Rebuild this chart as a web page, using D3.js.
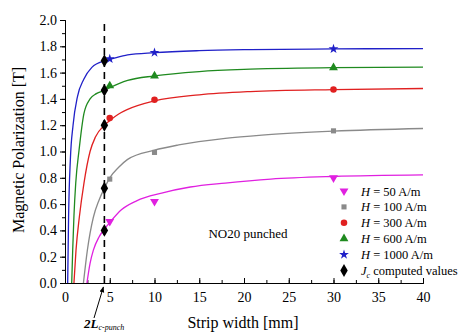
<!DOCTYPE html>
<html>
<head>
<meta charset="utf-8">
<script src="https://cdn.jsdelivr.net/npm/d3@7"></script>
<style>
  body { margin: 0; background: #fff; }
  svg text { font-family: 'Liberation Serif', 'Times New Roman', 'DejaVu Serif', serif; }
</style>
</head>
<body>
<div id="root"></div>
<script>
// Data ////////////////////////////////////////////////////////////////
const xTicks = [0, 5, 10, 15, 20, 25, 30, 35, 40];
const yTicks = [0.0, 0.2, 0.4, 0.6, 0.8, 1.0, 1.2, 1.4, 1.6, 1.8, 2.0];

const seriesNames = ['50', '100', '300', '600', '1000'];
const seriesColors = ['#e020e0', '#8a8a8a', '#e02020', '#1f8a1f', '#2020c8'];

// measured points
const markerX = [5, 10, 30];
const h50Points = [0.468, 0.62, 0.80];
const h100Points = [0.79, 0.993, 1.157];
const h300Points = [1.254, 1.393, 1.471];
const h600Points = [1.50, 1.575, 1.638];
const h1000Points = [1.704, 1.752, 1.78];

// Jc computed values at 2L c-punch
const jcX = 4.4;
const jcValues = [0.40, 0.72, 1.20, 1.465, 1.69];

// fitted curves
const h50FitX = [2.45, 2.8, 3.17, 3.8, 4.4, 5, 6.3, 8, 10.8, 14, 17.9, 23, 30, 40];
const h50FitY = [0, 0.15, 0.25, 0.35, 0.41, 0.46, 0.557, 0.625, 0.684, 0.73, 0.76, 0.79, 0.81, 0.822];
const h100FitX = [2.06, 2.5, 3.17, 3.8, 4.4, 5, 6, 7, 10, 12.7, 17.9, 22, 30, 40];
const h100FitY = [0, 0.25, 0.5, 0.63, 0.72, 0.8, 0.88, 0.94, 1.01, 1.05, 1.10, 1.125, 1.155, 1.175];
const h300FitX = [1.0, 1.23, 1.6, 2.12, 2.8, 3.4, 4.4, 5, 6, 7, 10, 15, 20.7, 30, 40];
const h300FitY = [0, 0.25, 0.5, 0.76, 1.0, 1.11, 1.20, 1.235, 1.285, 1.32, 1.385, 1.431, 1.456, 1.471, 1.479];
const h600FitX = [0.75, 0.86, 1.0, 1.2, 1.57, 2.12, 2.8, 3.5, 4.4, 5, 7, 10, 15, 20.7, 30, 40];
const h600FitY = [0, 0.25, 0.51, 0.76, 1.01, 1.29, 1.40, 1.44, 1.465, 1.485, 1.54, 1.575, 1.608, 1.626, 1.638, 1.641];
const h1000FitX = [0.3, 0.4, 0.6, 0.9, 1.4, 2.1, 3.0, 4.4, 5, 7, 10, 15, 20.7, 30, 40];
const h1000FitY = [0, 0.5, 0.94, 1.2, 1.42, 1.55, 1.64, 1.69, 1.70, 1.735, 1.752, 1.767, 1.775, 1.78, 1.783];

const pointSets = [h50Points, h100Points, h300Points, h600Points, h1000Points];
const fitXs = [h50FitX, h100FitX, h300FitX, h600FitX, h1000FitX];
const fitYs = [h50FitY, h100FitY, h300FitY, h600FitY, h1000FitY];
const symbolTypes = [d3.symbolTriangle, d3.symbolSquare, d3.symbolCircle, d3.symbolTriangle, d3.symbolStar];
const symbolRotate = [180, 0, 0, 0, 0];
const symbolSizes = [34, 26, 34, 34, 30];

// Chart ///////////////////////////////////////////////////////////////
const width = 461;
const height = 334;
const margin = { top: 20, right: 38, bottom: 51, left: 65 };

const svg = d3.select('#root').append('svg').attr('width', width).attr('height', height);

const xScale = d3.scaleLinear().domain([0, 40]).range([margin.left, width - margin.right]);
const yScale = d3.scaleLinear().domain([0, 2]).range([height - margin.bottom, margin.top]);

// X axis (ticks pointing up)
const xAxisGroup = svg.append('g').attr('transform', `translate(0, ${yScale(0)})`);
xAxisGroup.call(d3.axisBottom(xScale).tickValues(d3.range(0, 40.1, 2.5)).tickSize(-3).tickFormat(''));
xAxisGroup.call((g) => g.append('g').call(d3.axisBottom(xScale).tickValues(xTicks).tickSize(-5).tickPadding(9)));
xAxisGroup.selectAll('.domain').attr('stroke', '#000');
xAxisGroup.selectAll('text').attr('font-size', 14).attr('fill', '#000');

// Y axis (ticks pointing out)
const yAxisGroup = svg.append('g').attr('transform', `translate(${xScale(0)}, 0)`);
yAxisGroup.call(d3.axisLeft(yScale).tickValues(d3.range(0, 2.01, 0.1)).tickSize(3).tickFormat(''));
yAxisGroup.call((g) => g.append('g').call(d3.axisLeft(yScale).tickValues(yTicks).tickSize(5).tickPadding(3).tickFormat(d3.format('.1f'))));
yAxisGroup.selectAll('text').attr('font-size', 14).attr('fill', '#000');

// Titles
svg.append('text')
  .attr('x', 243).attr('y', 328)
  .attr('text-anchor', 'middle').attr('font-size', 16)
  .text('Strip width [mm]');

svg.append('text')
  .attr('transform', `translate(24, 150) rotate(-90)`)
  .attr('text-anchor', 'middle').attr('font-size', 16)
  .text('Magnetic Polarization [T]');

svg.append('text')
  .attr('x', 248).attr('y', 238)
  .attr('text-anchor', 'middle').attr('font-size', 13)
  .text('NO20 punched');

// Dashed 2L line
svg.append('line')
  .attr('x1', xScale(jcX)).attr('x2', xScale(jcX))
  .attr('y1', yScale(0)).attr('y2', yScale(1.97))
  .attr('stroke', '#000').attr('stroke-width', 1.6)
  .attr('stroke-dasharray', '7,5');

// Fitted curves
const line = d3.line()
  .x((d) => xScale(d[0]))
  .y((d) => yScale(d[1]))
  .curve(d3.curveMonotoneX);

seriesNames.forEach((name, i) => {
  const pts = fitXs[i].map((x, j) => [x, fitYs[i][j]]);
  svg.append('path')
    .datum(pts)
    .attr('d', line)
    .attr('fill', 'none')
    .attr('stroke', seriesColors[i])
    .attr('stroke-width', 1.3);
});

// Markers
seriesNames.forEach((name, i) => {
  svg.append('g')
    .selectAll('path')
    .data(pointSets[i])
    .enter()
    .append('path')
    .attr('d', d3.symbol().type(symbolTypes[i]).size(symbolSizes[i]))
    .attr('transform', (d, j) => `translate(${xScale(markerX[j])}, ${yScale(d)}) rotate(${symbolRotate[i]})`)
    .attr('fill', seriesColors[i]);
});

svg.append('g')
  .selectAll('path')
  .data(jcValues)
  .enter()
  .append('path')
  .attr('d', d3.symbol().type(d3.symbolDiamond).size(48))
  .attr('transform', (d) => `translate(${xScale(jcX)}, ${yScale(d)})`)
  .attr('fill', '#000');

// Legend
const legend = svg.append('g');
const legendX = 344;
const legendY0 = 191;
const legendStep = 15.9;

seriesNames.forEach((name, i) => {
  const y = legendY0 + i * legendStep;
  legend.append('path')
    .attr('d', d3.symbol().type(symbolTypes[i]).size(symbolSizes[i]))
    .attr('transform', `translate(${legendX}, ${y}) rotate(${symbolRotate[i]})`)
    .attr('fill', seriesColors[i]);
  const t = legend.append('text')
    .attr('x', 361).attr('y', y + 4.5)
    .attr('font-size', 12.5);
  t.append('tspan').attr('font-style', 'italic').text('H');
  t.append('tspan').text(` = ${name} A/m`);
});

const jcY = legendY0 + 5 * legendStep;
legend.append('path')
  .attr('d', d3.symbol().type(d3.symbolDiamond).size(48))
  .attr('transform', `translate(${legendX}, ${jcY})`)
  .attr('fill', '#000');
const jcText = legend.append('text').attr('x', 361).attr('y', jcY + 4.5).attr('font-size', 12.5);
jcText.append('tspan').attr('font-style', 'italic').text('J');
jcText.append('tspan').attr('font-style', 'italic').attr('font-size', 8).attr('dy', 3).text('c');
jcText.append('tspan').attr('dy', -3).text(' computed values');

// 2L c-punch label with arrow
svg.append('defs').append('marker')
  .attr('id', 'arrow')
  .attr('viewBox', '0 0 10 10')
  .attr('refX', 9).attr('refY', 5)
  .attr('markerWidth', 6).attr('markerHeight', 6)
  .attr('orient', 'auto')
  .append('path').attr('d', 'M0,1 L10,5 L0,9 Z').attr('fill', '#000');

svg.append('line')
  .attr('x1', 94).attr('y1', 318)
  .attr('x2', xScale(jcX) - 1).attr('y2', yScale(0) + 4)
  .attr('stroke', '#000').attr('stroke-width', 1)
  .attr('marker-end', 'url(#arrow)');

const lab = svg.append('text').attr('x', 84).attr('y', 328).attr('font-size', 13);
lab.append('tspan').attr('font-weight', 'bold').attr('font-style', 'italic').text('2L');
lab.append('tspan').attr('font-style', 'italic').attr('font-size', 8).attr('dy', 2).text('c-punch');
</script>
</body>
</html>
